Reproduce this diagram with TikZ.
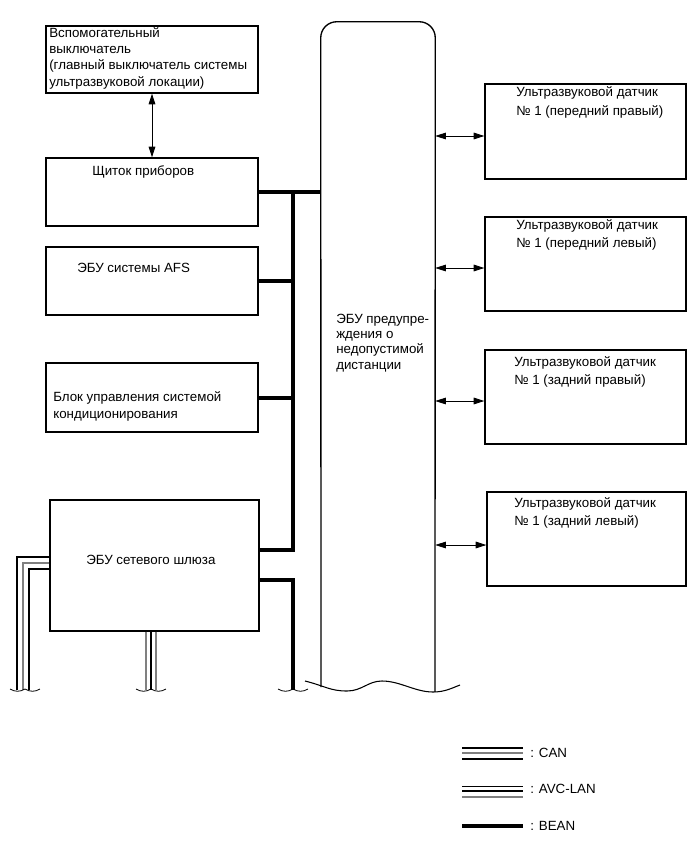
\documentclass[tikz,border=0pt]{standalone}
\usepackage{fontspec}
\setmainfont{Liberation Sans}
\usetikzlibrary{fit,arrows.meta}

\tikzset{
  box/.style={draw, line width=1pt, inner sep=0pt},
  txt/.style={anchor=base west, inner sep=0pt, align=left, font=\fontsize{10}{12.2}\selectfont},
  arr/.style={line width=0.6pt, {Triangle[length=8pt,width=5pt]}-{Triangle[length=8pt,width=5pt]}},
  bean/.style={line width=3pt},
  fat/.style={line width=2pt},
  grey/.style={line width=0.8pt, gray},
  brk/.pic={\draw[line width=0.6pt] (-15,-1) .. controls (-10,2) and (-5,2) .. (0,-1) .. controls (5,2) and (10,2) .. (15,-1);}
}

\begin{document}
\begin{tikzpicture}[x=0.75pt, y=-0.75pt]
    \useasboundingbox (0,0) rectangle (690,856);

    % left column
    \node[box, fit={(46,26) (258,93)}] (sw) {};
    \node[box, fit={(46,158) (258,226)}] (panel) {};
    \node[box, fit={(46,247) (258,315)}] (afs) {};
    \node[box, fit={(46,363) (258,432)}] (clim) {};
    \node[box, fit={(50,500) (259,631)}] (gw) {};

    % base = last line
    \node[txt] (swt) at (49,86) {Вспомогательный\\выключатель\\(главный выключатель системы\\ультразвуковой локации)};
    \node[txt] (panelt) at (92,175) {Щиток приборов};
    \node[txt] (afst) at (77,272) {ЭБУ системы AFS};
    \node[txt] (climt) at (53,418) {Блок управления системой\\кондиционирования};
    \node[txt] (gwt) at (86,564) {ЭБУ сетевого шлюза};

    \draw[arr] (sw.south) -- (panel.north);

    % central ECU
    \node[fit={(321,22) (435,692)}, inner sep=0pt] (ecu) {};
    \coordinate (ecuL) at (321,687);
    \coordinate (ecuR) at (435,692);
    \draw[line width=1pt, rounded corners=12pt] (ecuL) -- (ecu.north west) -- (ecu.north east) -- (ecuR);
    \draw[line width=0.8pt] (305,681) .. controls (325,686) and (330,691) .. (347,691)
        .. controls (362,691) and (368,681) .. (382,681)
        .. controls (400,681) and (415,692) .. (433,692)
        .. controls (445,692) and (452,688) .. (460,685);
    \node[txt, font=\fontsize{10}{11.3}\selectfont] (ecut) at (336,369) {ЭБУ предупре-\\ждения о\\недопустимой\\дистанции};

    % sensors
    \node[box, fit={(485,84) (686,179)}] (s1) {};
    \node[box, fit={(485,217) (686,311)}] (s2) {};
    \node[box, fit={(485,350) (686,444)}] (s3) {};
    \node[box, fit={(487,492) (686,586)}] (s4) {};

    \node[txt, font=\fontsize{10}{13.5}\selectfont] (s1t) at (516,115) {Ультразвуковой датчик\\№ 1 (передний правый)};
    \node[txt, font=\fontsize{10}{13.5}\selectfont] (s2t) at (516,247) {Ультразвуковой датчик\\№ 1 (передний левый)};
    \node[txt, font=\fontsize{10}{13.5}\selectfont] (s3t) at (514,384) {Ультразвуковой датчик\\№ 1 (задний правый)};
    \node[txt, font=\fontsize{10}{13.5}\selectfont] (s4t) at (514,525) {Ультразвуковой датчик\\№ 1 (задний левый)};

    \coordinate (a1) at (0,136);
    \coordinate (a2) at (0,268);
    \coordinate (a3) at (0,401);
    \coordinate (a4) at (0,545);
    \draw[arr] (ecu.east |- a1) -- (s1.west |- a1);
    \draw[arr] (ecu.east |- a2) -- (s2.west |- a2);
    \draw[arr] (ecu.east |- a3) -- (s3.west |- a3);
    \draw[arr] (ecu.east |- a4) -- (s4.west |- a4);

    % BEAN bus
    \coordinate (bt) at (293,192);
    \coordinate (bb) at (293,550);
    \coordinate (g2) at (293,580);
    \coordinate (bend) at (293,690);
    \draw[bean] (panel.east) -- (panel.east -| ecu.west);
    \draw[bean] (bt) -- (bb) -- (bb -| gw.east);
    \draw[bean] (afs.east) -- (afs.east -| bt);
    \draw[bean] (clim.east) -- (clim.east -| bt);
    \draw[bean] (g2 -| gw.east) -- (g2) -- (bend);
    \pic at (bend) {brk};

    % wires out of the gateway
    \coordinate (c1) at (17,557);
    \coordinate (c2) at (23,563);
    \coordinate (c3) at (29,569);
    \coordinate (lend) at (25,690);
    \draw[fat] (gw.west |- c1) -- (c1) -- (c1 |- lend);
    \draw[grey] (gw.west |- c2) -- (c2) -- (c2 |- lend);
    \draw[fat] (gw.west |- c3) -- (c3) -- (c3 |- lend);
    \pic at (lend) {brk};

    \coordinate (m1) at (146,690);
    \coordinate (m2) at (151,690);
    \coordinate (m3) at (156,690);
    \draw[grey] (m1 |- gw.south) -- (m1);
    \draw[fat] (m2 |- gw.south) -- (m2);
    \draw[grey] (m3 |- gw.south) -- (m3);
    \pic at (m2) {brk};

    % legend
    \node[txt] (lcan) at (530,757) {: CAN};
    \node[txt] (lavc) at (530,793) {: AVC-LAN};
    \node[txt] (lbean) at (530,830) {: BEAN};
    \draw[line width=1.8pt] (462,748) -- (523,748);
    \draw[line width=0.8pt, gray] (462,753) -- (523,753);
    \draw[line width=1.8pt] (462,759) -- (523,759);
    \draw[line width=0.7pt] (462,786) -- (523,786);
    \draw[line width=1.4pt] (462,791) -- (523,791);
    \draw[line width=1.3pt, gray] (462,797) -- (523,797);
    \draw[line width=2.6pt] (462,826) -- (523,826);
\end{tikzpicture}
\end{document}
